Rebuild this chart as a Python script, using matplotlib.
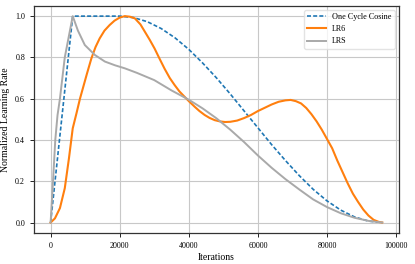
import numpy as np
import matplotlib
matplotlib.use("Agg")
import matplotlib.pyplot as plt

# iterations in thousands
cos_iters = [0, 6.4, 20, 24, 28, 32, 36, 40, 44, 48, 52, 56, 60, 64, 68, 72,
             76, 80, 84, 88, 92, 96]
cos_lr = [0.0, 1.0, 1.0, 0.993, 0.973, 0.940, 0.895, 0.839, 0.773, 0.701, 0.623,
          0.541, 0.459, 0.377, 0.300, 0.227, 0.161, 0.105, 0.060, 0.027, 0.007, 0.0]

lr6_iters = [0, 1.25, 2.7, 4.1, 5.3, 6.4, 7.5, 8.5, 9.5, 10.5, 11.8, 13, 14.2,
             15.6, 17.1, 18.5, 20, 21.5, 23, 24.4, 26, 27.3, 28.7, 30.1, 31.5,
             33, 34.5, 35.9, 37.3, 38.8, 40.2, 41.7, 43.1, 44.6, 46, 47.5, 49,
             50.5, 52, 54, 56, 58, 60, 62, 64, 66, 68, 69.5, 71, 72.5, 74,
             75.5, 77, 78.5, 80, 81.5, 83, 84.5, 86, 87.5, 89, 90.5, 92, 93.5,
             95, 96]
lr6_lr = [0.0, 0.02, 0.07, 0.166, 0.31, 0.456, 0.53, 0.60, 0.66, 0.72, 0.795,
          0.85, 0.892, 0.93, 0.957, 0.978, 0.993, 1.0, 0.997, 0.989, 0.96,
          0.924, 0.885, 0.843, 0.795, 0.745, 0.70, 0.666, 0.635, 0.609, 0.585,
          0.561, 0.54, 0.521, 0.507, 0.496, 0.49, 0.487, 0.488, 0.494, 0.506,
          0.521, 0.54, 0.556, 0.572, 0.585, 0.592, 0.594, 0.588, 0.577, 0.555,
          0.525, 0.49, 0.45, 0.405, 0.36, 0.30, 0.245, 0.19, 0.14, 0.10, 0.063,
          0.034, 0.013, 0.003, 0.0]

lrs_iters = [0, 0.7, 1.35, 2.0, 2.7, 4.1, 6.4, 7.9, 9.9, 12.8, 15.7, 18.6, 21.5,
             25, 30, 35, 40, 44, 48, 52, 56, 60, 64, 68, 72, 76, 80, 84, 88,
             92, 96]
lrs_lr = [0.0, 0.2, 0.4, 0.52, 0.6, 0.8, 1.0, 0.93, 0.86, 0.812, 0.78, 0.762,
          0.747, 0.725, 0.69, 0.64, 0.595, 0.553, 0.505, 0.45, 0.39, 0.325,
          0.265, 0.21, 0.16, 0.112, 0.075, 0.045, 0.023, 0.008, 0.0]

plt.rcParams['font.family'] = ['Liberation Serif', 'DejaVu Serif']

fig = plt.figure(figsize=(4.15, 2.64), dpi=100)
ax = fig.add_axes([0.082, 0.118, 0.879, 0.86])

ax.plot(np.array(cos_iters) * 1000, cos_lr, color='#1f77b4', lw=1.2,
        linestyle=(0, (2.4, 1.3)), label='One Cycle Cosine')
ax.plot(np.array(lr6_iters) * 1000, lr6_lr, color='#ff7f0e', lw=1.5, label='LR6')
ax.plot(np.array(lrs_iters) * 1000, lrs_lr, color='#a9a9a9', lw=1.4, label='LRS')

ax.set_xticks([0, 20000, 40000, 60000, 80000, 100000])
ax.set_yticks([0.0, 0.2, 0.4, 0.6, 0.8, 1.0])
ax.set_yticklabels(['0.0', '0.2', '0.4', '0.6', '0.8', '1.0'])
ax.tick_params(labelsize=5.8, length=3, width=0.6)
ax.set_xlabel('Iterations', fontsize=7, labelpad=2)
ax.set_ylabel('Normalized Learning Rate', fontsize=7, labelpad=4)
ax.grid(True, color='#c8c8c8', lw=0.8)
ax.set_axisbelow(True)
for s in ax.spines.values():
    s.set_color('#333333')
    s.set_linewidth(0.9)

ax.legend(loc='upper right', fontsize=5.9, framealpha=0.8, edgecolor='#dddddd',
          handlelength=2.2)

fig.savefig('out.png', dpi=100)
